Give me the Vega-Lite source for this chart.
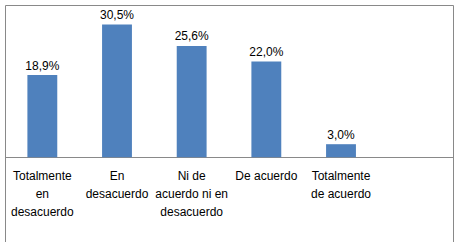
{
  "$schema": "https://vega.github.io/schema/vega-lite/v6.json",
  "width": 448,
  "height": 261,
  "padding": {"left": 5, "top": 5, "right": 5, "bottom": 0},
  "background": "white",
  "config": {
    "locale": {"number": {"decimal": ",", "thousands": ".", "grouping": [3], "currency": ["", " €"]}},
    "view": {"stroke": "#898989", "strokeWidth": 1},
    "font": "Liberation Sans"
  },
  "data": {
    "values": [
      {"categoria": "Totalmente en desacuerdo", "valor": 0.189},
      {"categoria": "En desacuerdo", "valor": 0.305},
      {"categoria": "Ni de acuerdo ni en desacuerdo", "valor": 0.256},
      {"categoria": "De acuerdo", "valor": 0.22},
      {"categoria": "Totalmente de acuerdo", "valor": 0.03}
    ]
  },
  "encoding": {
    "x": {
      "field": "categoria",
      "type": "nominal",
      "sort": null,
      "scale": {
        "domain": ["Totalmente en desacuerdo", "En desacuerdo", "Ni de acuerdo ni en desacuerdo", "De acuerdo", "Totalmente de acuerdo", " "],
        "paddingInner": 0.6,
        "paddingOuter": 0.3
      },
      "axis": {
        "title": null,
        "orient": "bottom",
        "offset": -109,
        "labelAngle": 0,
        "ticks": false,
        "tickSize": 0,
        "labelPadding": 13,
        "labelFont": "Liberation Sans",
        "labelFontSize": 12,
        "labelColor": "#000000",
        "labelLineHeight": 18,
        "labelOverlap": false,
        "domainColor": "#898989",
        "domainWidth": 1,
        "grid": false,
        "labelExpr": "datum.value == 'Totalmente en desacuerdo' ? ['Totalmente','en','desacuerdo'] : datum.value == 'En desacuerdo' ? ['En','desacuerdo'] : datum.value == 'Ni de acuerdo ni en desacuerdo' ? ['Ni de','acuerdo ni en','desacuerdo'] : datum.value == 'Totalmente de acuerdo' ? ['Totalmente','de acuerdo'] : datum.label"
      }
    },
    "y": {
      "field": "valor",
      "type": "quantitative",
      "scale": {"domain": [-0.25, 0.35], "nice": false, "zero": true},
      "axis": null
    }
  },
  "layer": [
    {"mark": {"type": "bar", "color": "#4F81BD"}},
    {
      "mark": {"type": "text", "baseline": "alphabetic", "dy": -5.5, "fontSize": 12, "font": "Liberation Sans", "color": "#000000"},
      "encoding": {"text": {"field": "valor", "type": "quantitative", "format": ".1%"}}
    }
  ]
}
